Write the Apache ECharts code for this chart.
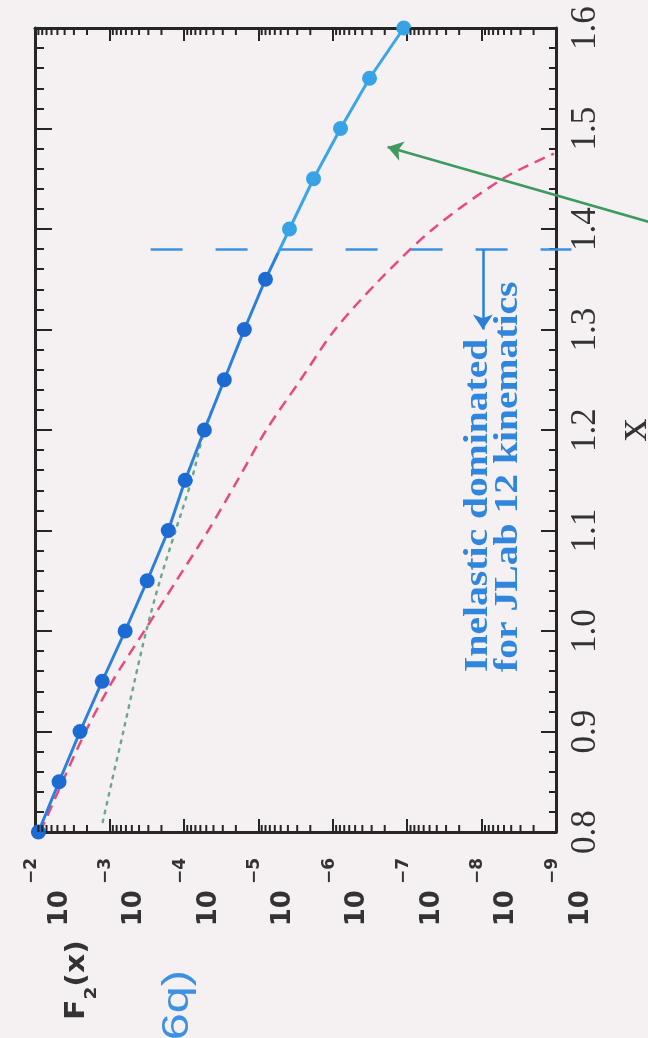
<!DOCTYPE html>
<html><head><meta charset="utf-8">
<script src="https://cdn.jsdelivr.net/npm/echarts@6/dist/echarts.min.js"></script>
<style>html,body{margin:0;padding:0;background:#f5f0f2}#c{width:648px;height:1038px}</style>
</head><body><div id="c"></div><script>
// ---- data ----
const xValues   = [0.80,0.85,0.90,0.95,1.00,1.05,1.10,1.15,1.20,1.25,1.30,1.35,1.40,1.45,1.50,1.55,1.60];
const f2Total   = [9.0e-3,4.75e-3,2.48e-3,1.25e-3,6.15e-4,3.11e-4,1.62e-4,9.6e-5,5.3e-5,2.86e-5,1.54e-5,8.0e-6,3.81e-6,1.81e-6,7.85e-7,3.2e-7,1.11e-7];
const dashedX   = [0.80,0.85,0.90,0.95,1.00,1.05,1.10,1.15,1.20,1.25,1.30,1.35,1.40,1.45,1.475];
const f2Dashed  = [8.5e-3,4.27e-3,2.09e-3,9.1e-4,3.4e-4,1.26e-4,4.7e-5,1.9e-5,7.8e-6,2.7e-6,9.3e-7,2.3e-7,4.5e-8,5.2e-9,1.07e-9];
const dottedX   = [0.81,0.85,0.90,0.95,1.00,1.05,1.10,1.15,1.20,1.22];
const f2Dotted  = [1.23e-3,9.3e-4,6.5e-4,4.6e-4,3.2e-4,2.1e-4,1.29e-4,7.9e-5,5.3e-5,4.2e-5];
const xTickLabels = ['0.8','0.9','1.0','1.1','1.2','1.3','1.4','1.5','1.6'];
const f2Exponents = [-2,-3,-4,-5,-6,-7,-8,-9];
const logDecades = [-9,-8,-7,-6,-5,-4,-3];
const logMinorSteps = [2,3,4,5,6,7,8,9];
// annotations
const cutoffX = 1.38;
const cutoffF2 = [2.8e-4, 6.2e-10];
const arrowF2 = 9.6e-9;
const arrowX = [1.38, 1.30];
const pointerFrom = [5.6e-11, 1.407];
const pointerTo = [1.83e-7, 1.4816];
const colourSplitX = 1.375;

const X_MIN = 0.8, X_MAX = 1.6;
const F_MIN = Math.pow(10, Math.min(...f2Exponents)), F_MAX = Math.pow(10, Math.max(...f2Exponents));
const minorTickValues = [];
logDecades.forEach(d => logMinorSteps.forEach(k => minorTickValues.push(k * Math.pow(10, d))));

const AX = '#262626';
const DARK_LINE = '#2a80dc', LIGHT_LINE = '#3aa5e8';
const DARK_PT = '#1b6bd2', LIGHT_PT = '#37a2e6';
const chart = echarts.init(document.getElementById('c'));

const splitFrac = (X_MAX - colourSplitX) / (X_MAX - X_MIN);
const totalGradient = new echarts.graphic.LinearGradient(0, 0, 0, 1, [
  { offset: 0, color: LIGHT_LINE }, { offset: splitFrac, color: LIGHT_LINE },
  { offset: splitFrac, color: DARK_LINE }, { offset: 1, color: DARK_LINE }
]);

const logAxisBase = {
  type: 'log', logBase: 10, min: F_MIN, max: F_MAX, inverse: true, splitNumber: 7,
  axisLine: { show: true, onZero: false, lineStyle: { color: AX, width: 3 } },
  axisTick: { show: true, inside: true, length: 13, lineStyle: { color: AX, width: 2 } },
  splitLine: { show: false }
};
const valAxisBase = {
  type: 'value', min: X_MIN, max: X_MAX, interval: 0.1,
  axisLine: { show: true, onZero: false, lineStyle: { color: AX, width: 3 } },
  splitLine: { show: false }, minorSplitLine: { show: false }
};

chart.setOption({
  backgroundColor: '#f5f0f2',
  animation: false,
  grid: { left: 35, right: 92, top: 28, bottom: 206, outerBoundsMode: 'none' },
  xAxis: [
    Object.assign({}, logAxisBase, {
      position: 'bottom',
      axisLabel: {
        rotate: 90, margin: 26, color: '#333',
        formatter: v => '{b|10}{s|\u2212' + (-Math.round(Math.log10(v))) + '}',
        rich: {
          b: { fontFamily: 'DejaVu Sans', fontWeight: 'bold', fontSize: 26, lineHeight: 24, verticalAlign: 'top', padding: [24, 0, 0, 0], color: '#333' },
          s: { fontFamily: 'DejaVu Sans', fontWeight: 'bold', fontSize: 17, lineHeight: 17, verticalAlign: 'top', padding: [0, 0, 47, 6], color: '#333' }
        }
      }
    }),
    Object.assign({}, logAxisBase, { position: 'top', axisLabel: { show: false } })
  ],
  yAxis: [
    Object.assign({}, valAxisBase, {
      position: 'right',
      axisTick: { show: true, inside: true, length: 15, lineStyle: { color: AX, width: 2 } },
      minorTick: { show: true, splitNumber: 5, length: 7, lineStyle: { color: AX, width: 2 } },
      axisLabel: {
        rotate: 90, margin: 12, color: '#333', fontFamily: 'Liberation Serif', fontSize: 35,
        formatter: v => xTickLabels[Math.round((v - X_MIN) * 10)] || ''
      },
      name: 'x', nameLocation: 'middle', nameRotate: 90, nameGap: 47,
      nameTextStyle: { fontFamily: 'Liberation Serif', fontSize: 46, color: '#333' }
    }),
    Object.assign({}, valAxisBase, {
      position: 'left',
      axisTick: { show: true, inside: true, length: 17, lineStyle: { color: AX, width: 2 } },
      minorTick: { show: true, splitNumber: 5, length: 9, lineStyle: { color: AX, width: 2 } },
      axisLabel: { show: false }
    })
  ],
  series: [
    { name: 'dotted', type: 'line', data: dottedX.map((x, i) => [f2Dotted[i], x]), showSymbol: false, smooth: 0.3, z: 2,
      lineStyle: { color: '#6aa98a', width: 2.5, type: [2.5, 6.5], cap: 'round' } },
    { name: 'dashed', type: 'line', data: dashedX.map((x, i) => [f2Dashed[i], x]), showSymbol: false, smooth: 0.3, z: 3,
      lineStyle: { color: '#e9497a', width: 2.5, type: [11, 7] } },
    { name: 'total', type: 'line', data: xValues.map((x, i) => [f2Total[i], x]), showSymbol: false, z: 4,
      lineStyle: { width: 3, color: totalGradient } },
    { name: 'points', type: 'scatter', data: xValues.map((x, i) => [f2Total[i], x]), symbol: 'circle', symbolSize: 15, z: 5,
      itemStyle: { color: p => (p.value[1] >= colourSplitX ? LIGHT_PT : DARK_PT), opacity: 1 } },
    { name: 'cutoff', type: 'lines', coordinateSystem: 'cartesian2d', z: 6, silent: true, clip: false,
      symbol: ['none', 'none'],
      data: [{ coords: [[cutoffF2[0], cutoffX], [cutoffF2[1], cutoffX]] }],
      lineStyle: { color: '#3a92e2', width: 2.5, type: [32, 33], opacity: 1, curveness: 0 } },
    { name: 'arrows', type: 'lines', coordinateSystem: 'cartesian2d', z: 7, silent: true, clip: false,
      symbol: ['none', 'arrow'], symbolSize: 15,
      data: [
        { coords: [[arrowF2, arrowX[0]], [arrowF2, arrowX[1]]], lineStyle: { color: '#2a7fda', width: 2.5, opacity: 1 } },
        { coords: [pointerFrom, pointerTo], lineStyle: { color: '#3f9a60', width: 2.5, opacity: 1 } }
      ],
      lineStyle: { opacity: 1, curveness: 0 } },
    { name: 'minorTicksBottom', type: 'scatter', silent: true, z: 8, clip: false,
      data: minorTickValues.map(v => [v, X_MIN]),
      symbol: 'rect', symbolSize: [2, 7], symbolOffset: [0, -3.5],
      itemStyle: { color: AX, opacity: 1 }, emphasis: { disabled: true } },
    { name: 'minorTicksTop', type: 'scatter', silent: true, z: 8, clip: false,
      data: minorTickValues.map(v => [v, X_MAX]),
      symbol: 'rect', symbolSize: [2, 7], symbolOffset: [0, 3.5],
      itemStyle: { color: AX, opacity: 1 }, emphasis: { disabled: true } }
  ],
  graphic: [
    { type: 'text', x: 478, y: 672, rotation: Math.PI / 2, scaleX: 1.2,
      style: { text: 'Inelastic dominated', font: 'bold 33px "Liberation Serif"', fill: '#2f86dc',
               align: 'left', verticalAlign: 'middle', textAlign: 'left', textVerticalAlign: 'middle' } },
    { type: 'text', x: 508, y: 672, rotation: Math.PI / 2, scaleX: 1.2,
      style: { text: 'for JLab 12 kinematics', font: 'bold 33px "Liberation Serif"', fill: '#2f86dc',
               align: 'left', verticalAlign: 'middle', textAlign: 'left', textVerticalAlign: 'middle' } },
    { type: 'text', x: 77, y: 980, rotation: Math.PI / 2, scaleX: 1.15,
      style: { text: '{b|F}{s|2}{b|(x)}', fill: '#333', align: 'center', verticalAlign: 'middle',
               textAlign: 'center', textVerticalAlign: 'middle',
               rich: {
                 b: { fontFamily: 'DejaVu Sans', fontWeight: 'bold', fontSize: 26, lineHeight: 26, verticalAlign: 'top', fill: '#333', color: '#333' },
                 s: { fontFamily: 'DejaVu Sans', fontWeight: 'bold', fontSize: 16, lineHeight: 16, verticalAlign: 'top', padding: [20, 0, 0, 0], fill: '#333', color: '#333' }
               } } },
    { type: 'text', x: 178, y: 970, rotation: Math.PI / 2, scaleX: 1.35,
      style: { text: '(6q)', font: '36px "Liberation Sans"', fill: '#3d90e2',
               align: 'right', verticalAlign: 'middle', textAlign: 'right', textVerticalAlign: 'middle' } }
  ]
});
</script></body></html>
